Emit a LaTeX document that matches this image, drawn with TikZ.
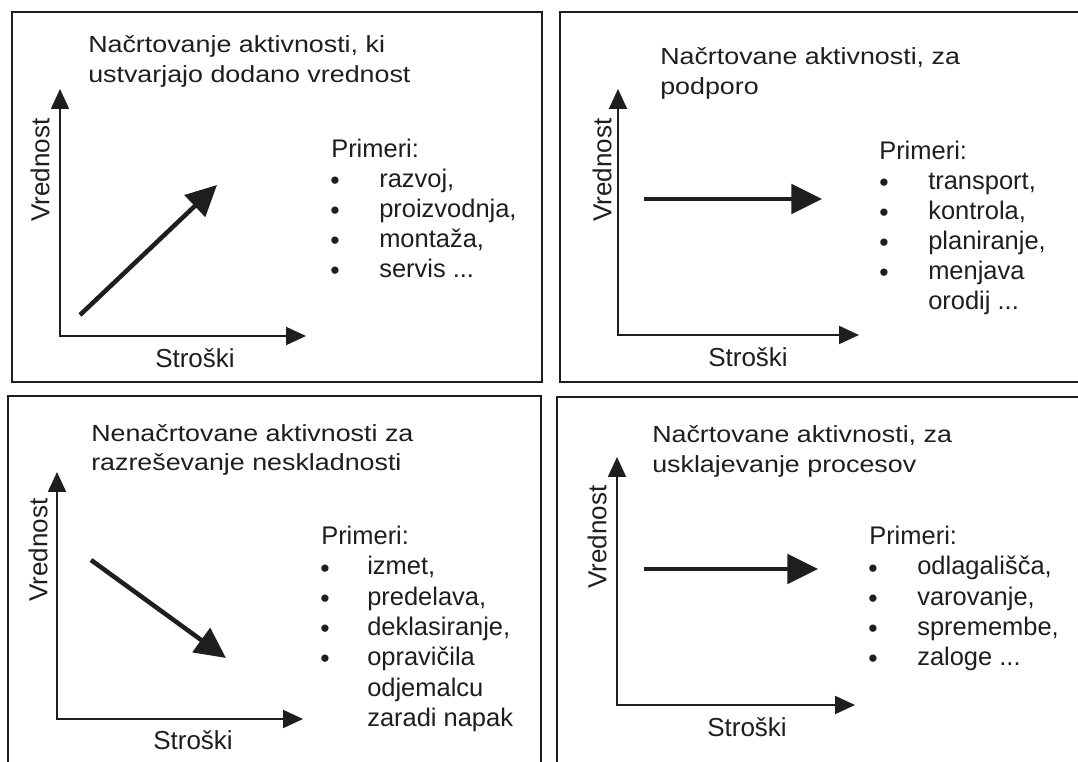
\documentclass[tikz,border=0pt]{standalone}
\usepackage{fontspec}
\setmainfont{Liberation Sans}
\newfontfamily\ttlfont[FakeStretch=1.15]{Liberation Sans}
\usetikzlibrary{arrows.meta}
\definecolor{ink}{HTML}{1E1E1E}
\begin{document}
\begin{tikzpicture}[x=0.75pt,y=-0.75pt,
  panel/.style={draw=ink, line width=1.4pt},
  axes/.style={draw=ink, line width=1.5pt, {Triangle[length=15pt,width=13.5pt]}-{Triangle[length=15pt,width=13.5pt]}},
  trend/.style={draw=ink, line width=3.4pt, -{Triangle[length=23pt,width=22pt]}},
  ttl/.style={font=\ttlfont\fontsize{17.5pt}{22.5pt}\selectfont, text=ink, inner sep=0pt, anchor=base west},
  txt/.style={font=\fontsize{19.1pt}{22.5pt}\selectfont, text=ink, inner sep=0pt, anchor=base west},
  lbl/.style={font=\fontsize{19.5pt}{22.5pt}\selectfont, text=ink, inner sep=0pt},
  bul/.style={font=\fontsize{20pt}{20pt}\selectfont, text=ink, inner sep=0pt, anchor=base west}]
\useasboundingbox (0,0) rectangle (1078,762);
\clip (0,0) rectangle (1078,762);
\fill[white] (0,0) rectangle (1078,762);

% panel frames
\draw[panel] (12,12) rectangle (542,382);
\draw[panel] (560,12) rectangle (1100,382);
\draw[panel] (8,396) rectangle (541,800);
\draw[panel] (557,397) rectangle (1100,800);

% ---------- panel 1 ----------
\node[ttl] (t1a) at (88,53) {Načrtovanje aktivnosti, ki};
\node[ttl] (t1b) at (88,83) {ustvarjajo dodano vrednost};
\coordinate (o1) at (60,336); \coordinate (y1) at (60,89); \coordinate (x1) at (306,336);
\draw[axes] (y1) -- (o1) -- (x1);
\node[lbl, rotate=90] (v1) at (40,170) {Vrednost};
\node[lbl] (s1) at (195,358) {Stroški};
\coordinate (a1s) at (80,315); \coordinate (a1e) at (217,185);
\draw[trend] (a1s) -- (a1e);
\node[txt] (p1) at (331,158) {Primeri:};
\foreach \i in {1,2,3,4}{\node[bul] (b1\i) at (330,{160+30*\i}) {\textbullet};}
\node[txt] (i11) at (379,188) {razvoj,};
\node[txt] (i12) at (379,218) {proizvodnja,};
\node[txt] (i13) at (379,248) {montaža,};
\node[txt] (i14) at (379,278) {servis ...};

% ---------- panel 2 ----------
\node[ttl] (t2a) at (660,65) {Načrtovane aktivnosti, za};
\node[ttl] (t2b) at (660,95) {podporo};
\coordinate (o2) at (618,335); \coordinate (y2) at (618,89); \coordinate (x2) at (859,335);
\draw[axes] (y2) -- (o2) -- (x2);
\node[lbl, rotate=90] (v2) at (602,170) {Vrednost};
\node[lbl] (s2) at (748,357) {Stroški};
\coordinate (a2s) at (644,199); \coordinate (a2e) at (822,199);
\draw[trend] (a2s) -- (a2e);
\node[txt] (p2) at (879,160) {Primeri:};
\foreach \i in {1,2,3,4}{\node[bul] (b2\i) at (879,{162+30*\i}) {\textbullet};}
\node[txt] (i21) at (928,190) {transport,};
\node[txt] (i22) at (928,220) {kontrola,};
\node[txt] (i23) at (928,250) {planiranje,};
\node[txt] (i24) at (928,280) {menjava};
\node[txt] (i25) at (928,310) {orodij ...};

% ---------- panel 3 ----------
\node[ttl] (t3a) at (91,442) {Nenačrtovane aktivnosti za};
\node[ttl] (t3b) at (91,471) {razreševanje neskladnosti};
\coordinate (o3) at (57,719); \coordinate (y3) at (57,472); \coordinate (x3) at (303,719);
\draw[axes] (y3) -- (o3) -- (x3);
\node[lbl, rotate=90] (v3) at (38,550) {Vrednost};
\node[lbl] (s3) at (193,740) {Stroški};
\coordinate (a3s) at (91,560); \coordinate (a3e) at (226,658);
\draw[trend] (a3s) -- (a3e);
\node[txt] (p3) at (321,545) {Primeri:};
\foreach \i in {1,2,3,4}{\node[bul] (b3\i) at (320,{547+30*\i}) {\textbullet};}
\node[txt] (i31) at (367,575) {izmet,};
\node[txt] (i32) at (367,605) {predelava,};
\node[txt] (i33) at (367,635) {deklasiranje,};
\node[txt] (i34) at (367,665) {opravičila};
\node[txt] (i35) at (367,696) {odjemalcu};
\node[txt] (i36) at (367,726) {zaradi napak};

% ---------- panel 4 ----------
\node[ttl] (t4a) at (652,443) {Načrtovane aktivnosti, za};
\node[ttl] (t4b) at (652,473) {usklajevanje procesov};
\coordinate (o4) at (617,705); \coordinate (y4) at (617,457); \coordinate (x4) at (855,705);
\draw[axes] (y4) -- (o4) -- (x4);
\node[lbl, rotate=90] (v4) at (597,537) {Vrednost};
\node[lbl] (s4) at (747,727) {Stroški};
\coordinate (a4s) at (644,569); \coordinate (a4e) at (818,569);
\draw[trend] (a4s) -- (a4e);
\node[txt] (p4) at (869,545) {Primeri:};
\foreach \i in {1,2,3,4}{\node[bul] (b4\i) at (868,{547+30*\i}) {\textbullet};}
\node[txt] (i41) at (917,575) {odlagališča,};
\node[txt] (i42) at (917,605) {varovanje,};
\node[txt] (i43) at (917,635) {spremembe,};
\node[txt] (i44) at (917,665) {zaloge ...};
\end{tikzpicture}
\end{document}
